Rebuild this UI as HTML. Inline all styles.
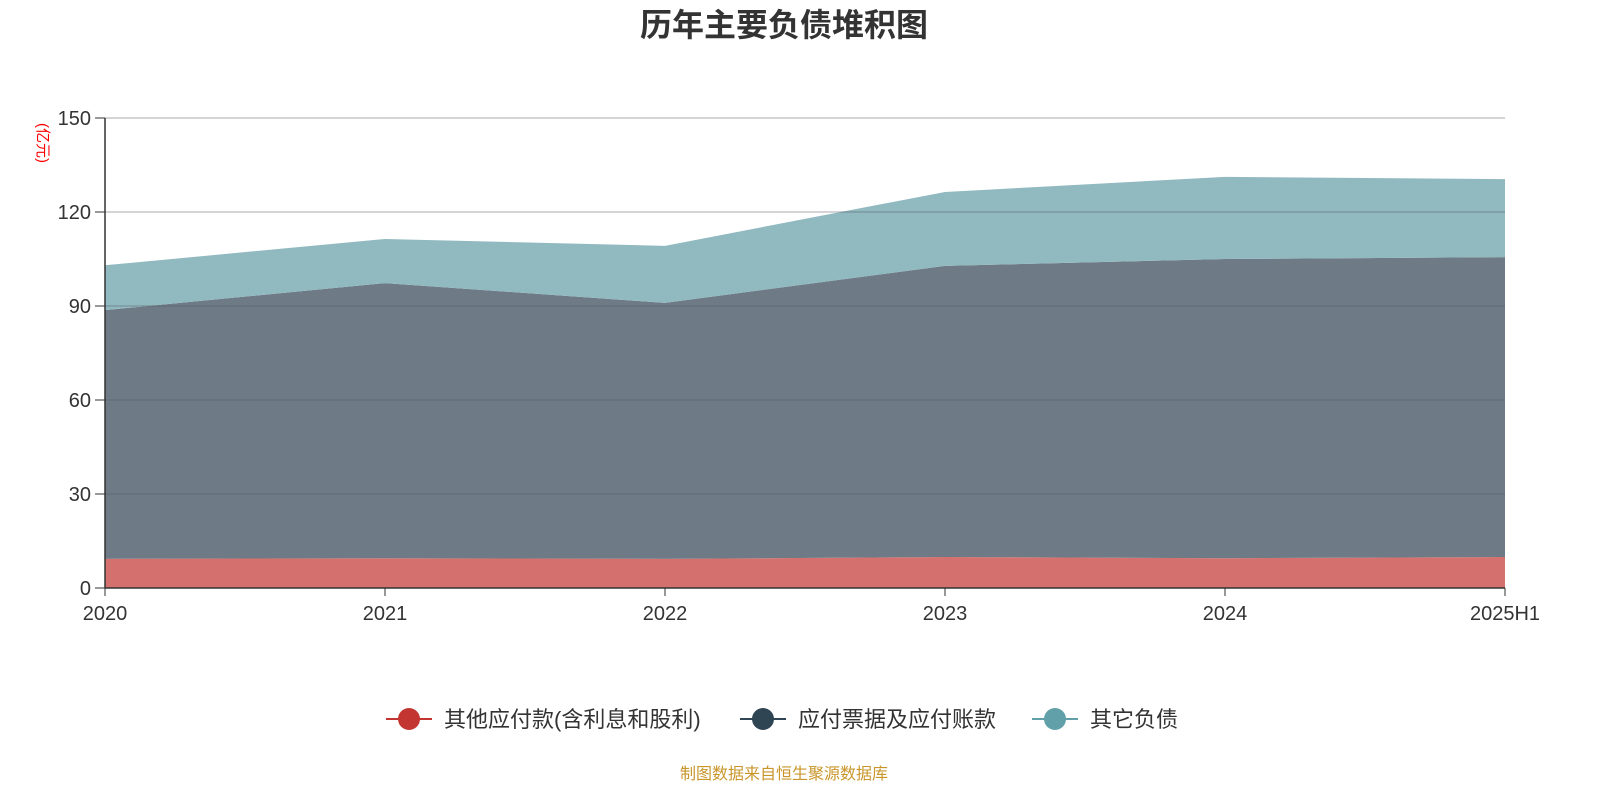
<!DOCTYPE html>
<html><head><meta charset="utf-8">
<style>
html,body{margin:0;padding:0;background:#fff;}
body{width:1600px;height:800px;overflow:hidden;font-family:"Liberation Sans","Noto Sans CJK SC",sans-serif;}
</style></head>
<body>
<svg width="1600" height="800" xmlns="http://www.w3.org/2000/svg" font-family="Liberation Sans, Noto Sans CJK SC, sans-serif">
<text x="784" y="36" text-anchor="middle" font-size="32" font-weight="bold" fill="#333">历年主要负债堆积图</text>
<text transform="translate(38,143) rotate(90)" text-anchor="middle" font-size="15" fill="#f00">(亿元)</text>
<g id="areas"></g>
<g id="grid"></g>
<g id="axes"></g>
<g>
 <g>
  <line x1="386" y1="719" x2="432" y2="719" stroke="#c23531" stroke-width="2"/>
  <circle cx="409" cy="719" r="11" fill="#c23531"/>
  <text x="444" y="727" font-size="22" fill="#333">其他应付款(含利息和股利)</text>
 </g>
 <g>
  <line x1="740" y1="719" x2="786" y2="719" stroke="#2f4554" stroke-width="2"/>
  <circle cx="763" cy="719" r="11" fill="#2f4554"/>
  <text x="798" y="727" font-size="22" fill="#333">应付票据及应付账款</text>
 </g>
 <g>
  <line x1="1032" y1="719" x2="1078" y2="719" stroke="#61a0a8" stroke-width="2"/>
  <circle cx="1055" cy="719" r="11" fill="#61a0a8"/>
  <text x="1090" y="727" font-size="22" fill="#333">其它负债</text>
 </g>
</g>
<text x="784" y="779" text-anchor="middle" font-size="16" fill="#c9962b">制图数据来自恒生聚源数据库</text>
</svg>
<script>
const categories = ["2020","2021","2022","2023","2024","2025H1"];
const otherPayables = [9.3, 9.5, 9.3, 9.9, 9.5, 9.9];
const notesAccountsPayable = [79.4, 87.8, 81.7, 92.9, 95.5, 95.7];
const otherLiabilities = [14.3, 14.1, 18.2, 23.6, 26.2, 24.9];
const yTicks = [0, 30, 60, 90, 120, 150];

const NS = "http://www.w3.org/2000/svg";
const X0 = 105, X1 = 1505, Y0 = 588, Y1 = 118, YMAX = 150;
function xScale(i){ return X0 + i * (X1 - X0) / (categories.length - 1); }
function yScale(v){ return Y0 - v / YMAX * (Y0 - Y1); }

const series = [
  {data: otherPayables, color: "#d4706e", name: "area-other-payables"},
  {data: notesAccountsPayable, color: "#6e7b86", name: "area-notes-accounts-payable"},
  {data: otherLiabilities, color: "#91b9c0", name: "area-other-liabilities"}
];
const areas = document.getElementById("areas");
let base = categories.map(() => 0);
series.forEach(s => {
  const top = base.map((b, i) => b + s.data[i]);
  let d = "";
  top.forEach((v, i) => { d += (i ? "L" : "M") + xScale(i) + "," + yScale(v); });
  for (let i = base.length - 1; i >= 0; i--) d += "L" + xScale(i) + "," + yScale(base[i]);
  d += "Z";
  const p = document.createElementNS(NS, "path");
  p.setAttribute("d", d);
  p.setAttribute("fill", s.color);
  
  
  areas.appendChild(p);
  base = top;
});

const grid = document.getElementById("grid");
const axes = document.getElementById("axes");
yTicks.forEach(t => {
  const y = yScale(t);
  if (t > 0) {
    const l = document.createElementNS(NS, "line");
    l.setAttribute("x1", X0); l.setAttribute("x2", X1);
    l.setAttribute("y1", y); l.setAttribute("y2", y);
    l.setAttribute("stroke", "rgba(90,90,100,0.35)");
    l.setAttribute("stroke-width", "1.5");
    
    
    grid.appendChild(l);
  }
  const tk = document.createElementNS(NS, "line");
  tk.setAttribute("x1", X0 - 10); tk.setAttribute("x2", X0);
  tk.setAttribute("y1", y); tk.setAttribute("y2", y);
  tk.setAttribute("stroke", "#333");
  
  
  axes.appendChild(tk);
  const tx = document.createElementNS(NS, "text");
  tx.setAttribute("x", X0 - 14); tx.setAttribute("y", y + 7);
  tx.setAttribute("text-anchor", "end");
  tx.setAttribute("font-size", "20"); tx.setAttribute("fill", "#333");
  tx.textContent = t;
  
  
  axes.appendChild(tx);
});
const ya = document.createElementNS(NS, "line");
ya.setAttribute("x1", X0); ya.setAttribute("x2", X0);
ya.setAttribute("y1", Y1); ya.setAttribute("y2", Y0);
ya.setAttribute("stroke", "#333"); ya.setAttribute("stroke-width", "1.5");


axes.appendChild(ya);
const xa = document.createElementNS(NS, "line");
xa.setAttribute("x1", X0); xa.setAttribute("x2", X1);
xa.setAttribute("y1", Y0); xa.setAttribute("y2", Y0);
xa.setAttribute("stroke", "#333"); xa.setAttribute("stroke-width", "1.5");


axes.appendChild(xa);
categories.forEach((c, i) => {
  const x = xScale(i);
  const tk = document.createElementNS(NS, "line");
  tk.setAttribute("x1", x); tk.setAttribute("x2", x);
  tk.setAttribute("y1", Y0); tk.setAttribute("y2", Y0 + 8);
  tk.setAttribute("stroke", "#333");
  
  
  axes.appendChild(tk);
  const tx = document.createElementNS(NS, "text");
  tx.setAttribute("x", x); tx.setAttribute("y", Y0 + 32);
  tx.setAttribute("text-anchor", "middle");
  tx.setAttribute("font-size", "20"); tx.setAttribute("fill", "#333");
  tx.textContent = c;
  
  
  axes.appendChild(tx);
});
</script>
</body></html>
